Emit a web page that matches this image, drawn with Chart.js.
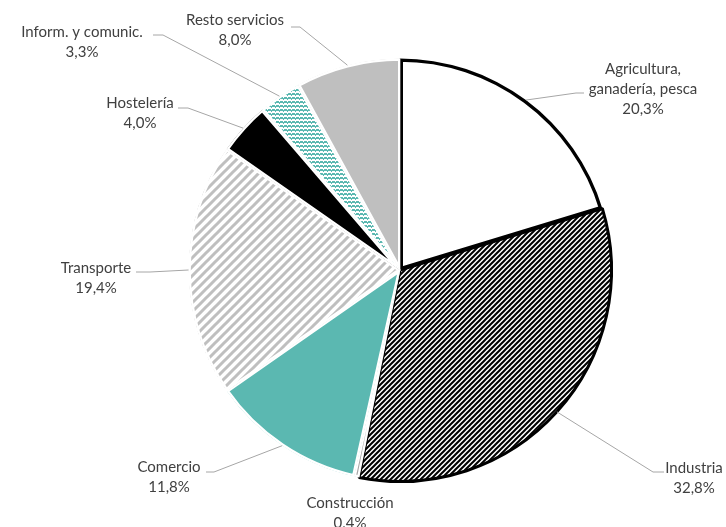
<!DOCTYPE html>
<html>
<head>
<meta charset="utf-8">
<script src="https://cdn.jsdelivr.net/npm/chart.js@4.4.1/dist/chart.umd.min.js"></script>
<style>
  body { margin: 0; background: #fff; }
  canvas { display: block; }
</style>
</head>
<body>
<canvas id="pieChart" width="726" height="527"></canvas>
<script>
// datos
const categories = [
    ['Agricultura,', 'ganadería, pesca'],
    'Industria',
    'Construcción',
    'Comercio',
    'Transporte',
    'Hostelería',
    'Inform. y comunic.',
    'Resto servicios'
];
const shares = [20.3, 32.8, 0.4, 11.8, 19.4, 4.0, 3.3, 8.0];

// posicion de etiquetas: texto (tx, ty) y linea guia (stub en y=sy, desde sx hasta ex)
const labelLayout = [
    { tx: 643, ty: 69,  sx: 584, ex: 576, sy: 93 },
    { tx: 694, ty: 468, sx: 664, ex: 653, sy: 472 },
    { tx: 350, ty: 503, sx: null },
    { tx: 169, ty: 467, sx: 206, ex: 214, sy: 472 },
    { tx: 96,  ty: 268, sx: 136, ex: 150, sy: 272 },
    { tx: 140, ty: 103, sx: 178, ex: 188, sy: 108 },
    { tx: 82,  ty: 32,  sx: 153, ex: 163, sy: 35 },
    { tx: 235, ty: 20,  sx: 291, ex: 300, sy: 27 }
];

function stripePattern(size, color, width, bg) {
    const c = document.createElement('canvas');
    c.width = size; c.height = size;
    const g = c.getContext('2d');
    g.fillStyle = bg;
    g.fillRect(0, 0, size, size);
    g.strokeStyle = color;
    g.lineWidth = width;
    g.beginPath();
    g.moveTo(-size, size * 2); g.lineTo(size * 2, -size);
    g.moveTo(-size, size); g.lineTo(size, -size);
    g.moveTo(0, size * 2); g.lineTo(size * 2, 0);
    g.stroke();
    return g.createPattern(c, 'repeat');
}

function rowPattern(color) {
    const c = document.createElement('canvas');
    c.width = 4; c.height = 4;
    const g = c.getContext('2d');
    g.fillStyle = '#fff';
    g.fillRect(0, 0, 4, 4);
    g.fillStyle = color;
    g.fillRect(0, 1, 3, 2);
    g.fillRect(3, 2, 1, 2);
    return g.createPattern(c, 'repeat');
}

const teal = '#5bb8b1';
const fills = [
    '#ffffff',
    stripePattern(5, '#000', 2, '#fff'),
    '#a6a6a6',
    teal,
    stripePattern(9, '#bfbfbf', 3, '#fff'),
    '#000000',
    rowPattern(teal),
    '#bfbfbf'
];
const borders = ['#000', '#000', '#fff', '#fff', '#fff', '#fff', '#fff', '#fff'];
const borderW = [3, 3, 2, 2, 2, 2, 2, 2];
const borderPos = ['inner', 'center', 'inner', 'inner', 'inner', 'inner', 'inner', 'inner'];

const labelPlugin = {
    id: 'pieLabels',
    afterDatasetsDraw(chart) {
        const ctx = chart.ctx;
        const meta = chart.getDatasetMeta(0);
        ctx.save();
        ctx.font = '15px Lato';
        ctx.fillStyle = '#404040';
        ctx.textAlign = 'center';
        ctx.textBaseline = 'middle';
        meta.data.forEach((arc, i) => {
            const lay = labelLayout[i];
            const mid = (arc.startAngle + arc.endAngle) / 2;
            const px = arc.x + Math.cos(mid) * arc.outerRadius;
            const py = arc.y + Math.sin(mid) * arc.outerRadius;
            if (lay.sx !== null) {
                ctx.strokeStyle = '#a6a6a6';
                ctx.lineWidth = 1;
                ctx.beginPath();
                ctx.moveTo(lay.sx, lay.sy);
                ctx.lineTo(lay.ex, lay.sy);
                ctx.lineTo(px, py);
                ctx.stroke();
            }
            let lines = Array.isArray(categories[i]) ? categories[i].slice() : [categories[i]];
            lines.push(shares[i].toFixed(1).replace('.', ',') + '%');
            lines.forEach((t, k) => ctx.fillText(t, lay.tx, lay.ty + k * 20));
        });
        ctx.restore();
    }
};

new Chart(document.getElementById('pieChart'), {
    type: 'pie',
    data: {
        labels: categories,
        datasets: [{
            data: shares,
            backgroundColor: fills,
            borderColor: borders,
            borderWidth: borderW,
            borderAlign: borderPos
        }]
    },
    options: {
        responsive: false,
        animation: false,
        layout: { padding: { top: 57, bottom: 44, left: 187, right: 113 } },
        plugins: {
            legend: { display: false },
            tooltip: { enabled: false }
        }
    },
    plugins: [labelPlugin]
});
</script>
</body>
</html>
